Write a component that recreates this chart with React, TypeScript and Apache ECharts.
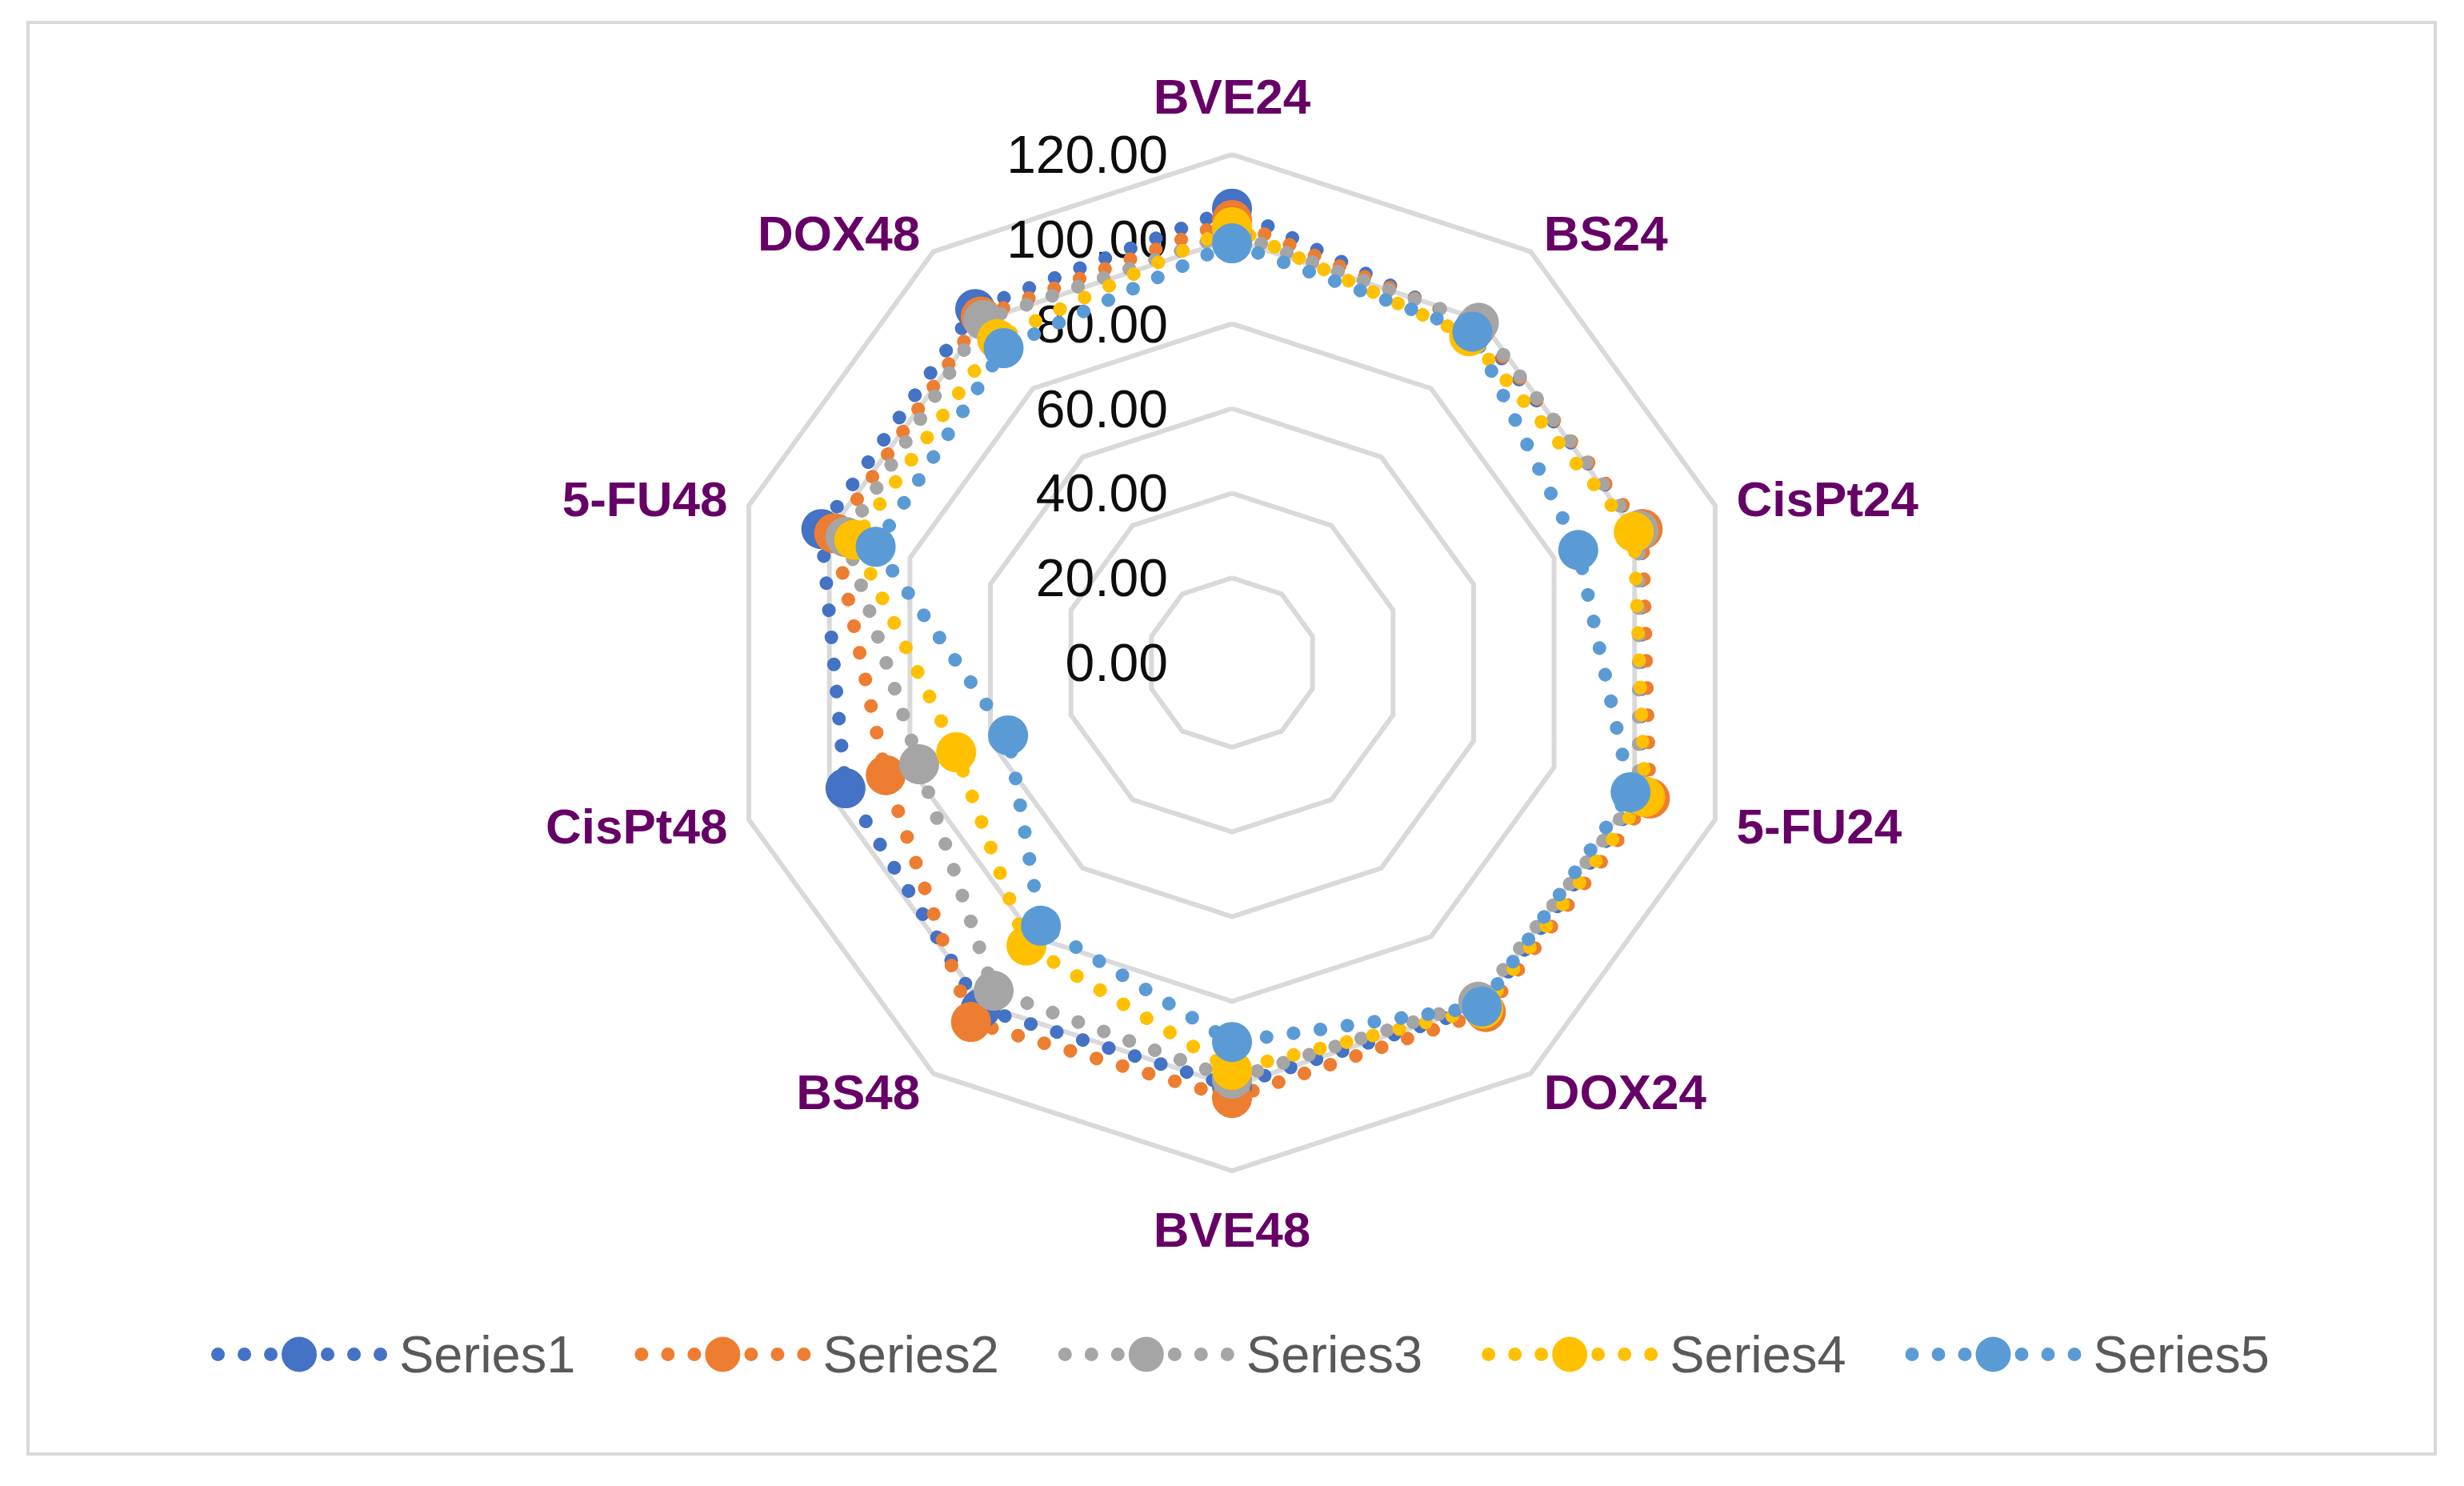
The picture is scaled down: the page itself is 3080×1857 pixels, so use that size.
import React, { useEffect, useRef } from 'react';
import * as echarts from 'echarts';

const FONT = '"Liberation Sans", Arial, sans-serif';

const categories = ['BVE24', 'BS24', 'CisPt24', '5-FU24', 'DOX24', 'BVE48', 'BS48', 'CisPt48', '5-FU48', 'DOX48'];
const seriesNames = ['Series1', 'Series2', 'Series3', 'Series4', 'Series5'];
const series1 = [107.2, 98.0, 101.8, 101.5, 100.5, 100.0, 101.0, 96.0, 102.0, 103.2];
const series2 = [104.5, 98.5, 102.0, 103.8, 102.0, 102.8, 104.9, 86.0, 98.8, 101.0];
const series3 = [101.5, 99.2, 101.0, 101.0, 99.0, 98.3, 95.8, 77.7, 96.0, 100.0];
const series4 = [102.8, 95.3, 99.8, 102.6, 101.0, 96.2, 82.6, 68.5, 93.8, 94.4];
const series5 = [99.0, 96.6, 86.0, 99.0, 100.4, 89.6, 76.8, 55.6, 88.5, 91.8];
const colors = ['#4472C4', '#ED7D31', '#A5A5A5', '#FFC000', '#5B9BD5'];
const axisMin = 0;
const axisMax = 120;
const axisStep = 20;

// legend icon: dotted line with a large marker in the middle
const circ = (cx: number, cy: number, r: number) =>
  `M${cx - r} ${cy} a${r} ${r} 0 1 0 ${2 * r} 0 a${r} ${r} 0 1 0 ${-2 * r} 0 Z`;
const iconPath =
  'path://' +
  [8.5, 41.5, 74.5, 145.5, 178.5, 211.5].map((x) => circ(x, 22, 8.5)).join(' ') +
  ' ' +
  circ(110, 22, 22);

export default function App() {
  const ref = useRef<HTMLDivElement>(null);
  useEffect(() => {
    if (!ref.current) return;
    const chart = echarts.init(ref.current, undefined, { renderer: 'svg' });
    const n = categories.length;
    // ECharts lays indicators counter-clockwise; Excel lays them clockwise.
    const order = categories.map((_, i) => (n - i) % n);
    const reorder = (arr: number[]) => order.map((i) => arr[i]);
    const allSeries = [series1, series2, series3, series4, series5];
    const verticalNames = new Set([categories[0], categories[n / 2]]);
    const nameStyle = { fontSize: 62, fontWeight: 'bold', color: '#660066', fontFamily: FONT };

    const option: any = {
      animation: false,
      backgroundColor: '#ffffff',
      color: colors,
      graphic: [
        {
          type: 'rect',
          shape: { x: 35, y: 28, width: 3009, height: 1789 },
          style: { fill: 'none', stroke: '#d9d9d9', lineWidth: 4 },
          z: -10,
        },
      ],
      grid: { left: 1468, top: 193, width: 2, height: 635 },
      xAxis: { type: 'value', show: false },
      yAxis: {
        type: 'value',
        min: axisMin,
        max: axisMax,
        interval: axisStep,
        axisLine: { show: false },
        axisTick: { show: false },
        splitLine: { show: false },
        axisLabel: {
          formatter: (v: number) => v.toFixed(2),
          margin: 8,
          fontSize: 66,
          color: '#0d0d0d',
          fontFamily: FONT,
        },
      },
      radar: {
        center: [1540, 828],
        radius: 635,
        startAngle: 90,
        splitNumber: (axisMax - axisMin) / axisStep,
        shape: 'polygon',
        indicator: order.map((i) => ({ name: categories[i], min: axisMin, max: axisMax })),
        nameGap: 28,
        axisName: {
          ...nameStyle,
          formatter: (name: string) => (verticalNames.has(name) ? `{v|${name}}` : `{d|${name}}`),
          rich: {
            v: { ...nameStyle, padding: [14, 0, 14, 0] },
            d: { ...nameStyle },
          },
        },
        axisLine: { show: false },
        axisTick: { show: false },
        axisLabel: { show: false },
        splitArea: { show: false },
        splitLine: { lineStyle: { color: '#d9d9d9', width: 6 } },
      },
      legend: {
        left: 259,
        top: 1655,
        itemWidth: 220,
        itemHeight: 44,
        itemGap: 74,
        icon: iconPath,
        textStyle: { fontSize: 65, color: '#595959', fontFamily: FONT, padding: [0, 0, 0, 10] },
        data: seriesNames.map((name, k) => ({
          name,
          icon: iconPath,
          itemStyle: { color: colors[k], borderWidth: 0 },
        })),
      },
      series: allSeries.map((vals, k) => ({
        type: 'radar',
        name: seriesNames[k],
        symbol: 'circle',
        symbolSize: 50,
        itemStyle: { color: colors[k] },
        lineStyle: { color: colors[k], width: 17, type: [0.1, 33.9], cap: 'round' },
        data: [{ name: seriesNames[k], value: reorder(vals) }],
      })),
    };
    chart.setOption(option);
    return () => chart.dispose();
  }, []);
  return (
    <div
      ref={ref}
      style={{ position: 'fixed', left: 0, top: 0, width: 3080, height: 1857, background: '#fff' }}
    />
  );
}
